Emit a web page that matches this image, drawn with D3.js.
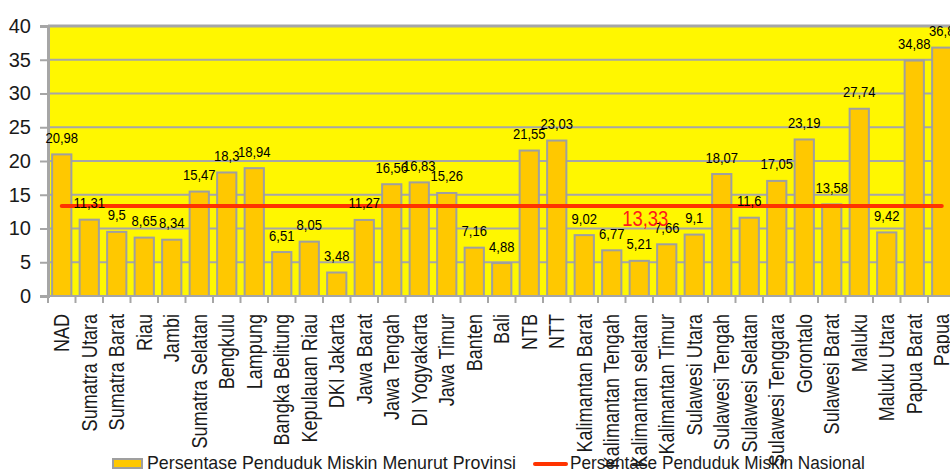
<!DOCTYPE html>
<html>
<head>
<meta charset="utf-8">
<script src="https://cdn.jsdelivr.net/npm/d3@7"></script>
<style>
  html, body { margin: 0; padding: 0; background: #ffffff; }
  svg { display: block; font-family: "Liberation Sans", Arial, sans-serif; }
</style>
</head>
<body>
<svg id="chart" width="950" height="473"></svg>
<script>
// Poverty rate per province (percent)
const provinces = [
  "NAD", "Sumatra Utara", "Sumatra Barat", "Riau", "Jambi", "Sumatra Selatan",
  "Bengkulu", "Lampung", "Bangka Belitung", "Kepulauan Riau", "DKI Jakarta",
  "Jawa Barat", "Jawa Tengah", "DI Yogyakarta", "Jawa Timur", "Banten", "Bali",
  "NTB", "NTT", "Kalimantan Barat", "Kalimantan Tengah", "Kalimantan selatan",
  "Kalimantan Timur", "Sulawesi Utara", "Sulawesi Tengah", "Sulawesi Selatan",
  "Sulawesi Tenggara", "Gorontalo", "Sulawesi Barat", "Maluku", "Maluku Utara",
  "Papua Barat", "Papua"
];
const provinceValues = [
  20.98, 11.31, 9.5, 8.65, 8.34, 15.47,
  18.3, 18.94, 6.51, 8.05, 3.48,
  11.27, 16.56, 16.83, 15.26, 7.16, 4.88,
  21.55, 23.03, 9.02, 6.77, 5.21,
  7.66, 9.1, 18.07, 11.6,
  17.05, 23.19, 13.58, 27.74, 9.42,
  34.88, 36.8
];
const nationalValue = 13.33;
const nationalLabelAt = "Kalimantan selatan";
const yTicks = [0, 5, 10, 15, 20, 25, 30, 35, 40];
const legendLabels = [
  "Persentase Penduduk Miskin Menurut Provinsi",
  "Persentase Penduduk Miskin Nasional"
];

const fmt = v => String(v).replace(".", ",");

const svg = d3.select("#chart");
const plot = { left: 48, top: 26, bottom: 296 };
const step = 27.5;

const x = d3.scaleBand()
  .domain(provinces)
  .range([plot.left, plot.left + step * provinces.length])
  .paddingInner(0.3)
  .paddingOuter(0.15);
const y = d3.scaleLinear().domain([0, 40]).range([plot.bottom, plot.top]);

const grey = "#a6a6a6";
const plotRight = plot.left + step * provinces.length;

// Plot background
svg.append("rect")
  .attr("x", plot.left).attr("y", plot.top)
  .attr("width", plotRight - plot.left).attr("height", plot.bottom - plot.top)
  .attr("fill", "#fff700");

// Horizontal gridlines
svg.append("g").selectAll("line")
  .data(yTicks.filter(t => t > 0))
  .join("line")
  .attr("x1", plot.left).attr("x2", plotRight)
  .attr("y1", d => y(d)).attr("y2", d => y(d))
  .attr("stroke", grey)
  .attr("stroke-width", d => d === 40 ? 3 : 2);

// Bars
svg.append("g").selectAll("rect")
  .data(provinces.map((p, i) => ({ p, v: provinceValues[i] })))
  .join("rect")
  .attr("x", d => x(d.p))
  .attr("y", d => y(d.v))
  .attr("width", x.bandwidth())
  .attr("height", d => y(0) - y(d.v))
  .attr("fill", "#ffc800")
  .attr("stroke", "#9f9f9f")
  .attr("stroke-width", 2);

// Y axis
const yAxis = d3.axisLeft(y).tickValues(yTicks).tickSize(8).tickPadding(9).tickFormat(d => d);
const gy = svg.append("g").attr("transform", `translate(${plot.left},0)`).call(yAxis);
gy.select(".domain").attr("stroke", grey).attr("stroke-width", 3);
gy.selectAll(".tick line").attr("stroke", grey).attr("stroke-width", 2);
gy.selectAll(".tick text")
  .attr("font-size", 20).attr("fill", "#1a1a1a")
  .attr("font-family", "'Liberation Sans', Arial, sans-serif");

// X axis line and ticks on band boundaries
const gx = svg.append("g");
gx.append("line")
  .attr("x1", plot.left).attr("x2", plotRight)
  .attr("y1", y(0)).attr("y2", y(0))
  .attr("stroke", grey).attr("stroke-width", 2);
const offset = (x.step() - x.bandwidth()) / 2;
gx.selectAll("line.tk")
  .data(provinces.concat(["_end"]))
  .join("line")
  .attr("class", "tk")
  .attr("x1", (d, i) => i < provinces.length ? x(d) - offset : x(provinces[i - 1]) + x.bandwidth() + offset)
  .attr("x2", (d, i) => i < provinces.length ? x(d) - offset : x(provinces[i - 1]) + x.bandwidth() + offset)
  .attr("y1", y(0)).attr("y2", y(0) + 7)
  .attr("stroke", grey).attr("stroke-width", 2);

// Category labels
svg.append("g").selectAll("text")
  .data(provinces)
  .join("text")
  .attr("transform", d => `translate(${x(d) + x.bandwidth() / 2},${y(0) + 18}) rotate(-90) scale(0.84,1)`)
  .attr("dy", "0.36em")
  .attr("text-anchor", "end")
  .attr("font-size", 21.5)
  .attr("fill", "#1a1a1a")
  .text(d => d);

// National line
const first = provinces[0], last = provinces[provinces.length - 1];
svg.append("line")
  .attr("x1", x(first) + x.bandwidth() / 2)
  .attr("x2", x(last) + x.bandwidth() / 2)
  .attr("y1", y(nationalValue)).attr("y2", y(nationalValue))
  .attr("stroke", "#ff3300").attr("stroke-width", 4)
  .attr("stroke-linecap", "round");

// Value labels
svg.append("g").selectAll("text")
  .data(provinces.map((p, i) => ({ p, v: provinceValues[i] })))
  .join("text")
  .attr("transform", d => `translate(${x(d.p) + x.bandwidth() / 2},${y(d.v) - 11.5}) scale(0.9,1)`)
  .attr("text-anchor", "middle")
  .attr("font-size", 14.5)
  .attr("fill", "#000")
  .text(d => fmt(d.v));

// National value label
svg.append("text")
  .attr("transform", `translate(${x(nationalLabelAt) + x.bandwidth() / 2 + 6},${y(nationalValue) + 19.5}) scale(0.84,1)`)
  .attr("text-anchor", "middle")
  .attr("font-size", 22)
  .attr("fill", "#ff1a1a")
  .text(fmt(nationalValue));

// Legend
const lg = svg.append("g");
lg.append("rect")
  .attr("x", 113).attr("y", 459).attr("width", 29).attr("height", 9)
  .attr("fill", "#ffc800").attr("stroke", "#9f9f9f").attr("stroke-width", 2);
lg.append("text")
  .attr("transform", "translate(147,469) scale(0.937,1)")
  .attr("font-size", 19).attr("fill", "#1a1a1a")
  .text(legendLabels[0]);
lg.append("line")
  .attr("x1", 535).attr("x2", 566).attr("y1", 464).attr("y2", 464)
  .attr("stroke", "#ff3300").attr("stroke-width", 4).attr("stroke-linecap", "round");
lg.append("text")
  .attr("transform", "translate(570,469) scale(0.907,1)")
  .attr("font-size", 19).attr("fill", "#1a1a1a")
  .text(legendLabels[1]);
</script>
</body>
</html>
